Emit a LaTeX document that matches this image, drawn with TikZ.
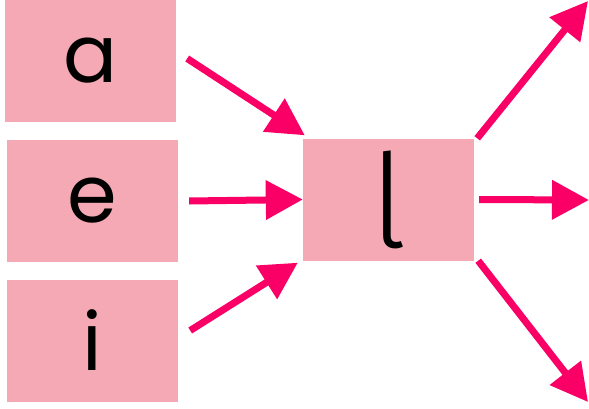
\documentclass[tikz,border=0pt]{standalone}
\usepackage{fontspec}
\setmainfont{Poppins}
\newfontfamily\lfont{Fira Sans Light}
\usetikzlibrary{arrows.meta}
\definecolor{boxpink}{RGB}{244,169,180}
\definecolor{arrpink}{RGB}{250,0,102}
\begin{document}
\begin{tikzpicture}[x=1pt,y=1pt,
  letterbox/.style={fill=boxpink,draw=none,minimum width=171pt,minimum height=122pt,inner sep=0pt,font=\fontsize{80}{80}\selectfont,text=black},
  arr/.style={draw=arrpink,line width=7pt,-{Triangle[length=37pt,width=38pt]}}]
\useasboundingbox (0,0) rectangle (589,408);
\node[letterbox] (a) at (90.5,347.5) {a};
\node[letterbox] (e) at (92.5,207) {e};
\node[letterbox] (i) at (92.5,67.5) {i};
\node[letterbox,font=\lfont\fontsize{130}{130}\selectfont] (l) at (388.5,208.5) {l};
\coordinate (o1) at (588,407);
\coordinate (o2) at (589,208);
\coordinate (o3) at (588,6);
\draw[arr] ([xshift=11pt,yshift=2pt]a.east) -- ([xshift=2pt,yshift=3pt]l.north west);
\draw[arr] ([xshift=11pt]e.east) -- (l.west);
\draw[arr] ([xshift=12pt,yshift=10pt]i.east) -- ([xshift=-5pt,yshift=-2pt]l.south west);
\draw[arr] ([xshift=3pt]l.north east) -- (o1);
\draw[arr] ([xshift=5pt]l.east) -- (o2);
\draw[arr] ([xshift=4pt]l.south east) -- (o3);
\end{tikzpicture}
\end{document}
